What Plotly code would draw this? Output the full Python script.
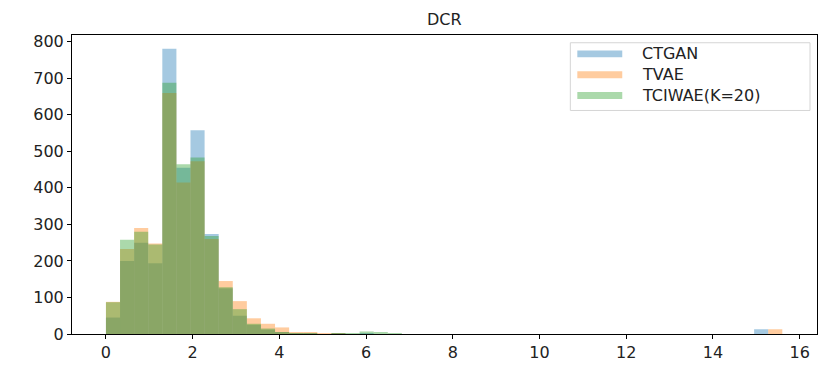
import plotly.graph_objects as go

# Histogram of distance to closest record (DCR), counts per bin
bin_start = 0.0
bin_width = 0.325

ctgan_counts = [45, 200, 250, 194, 781, 455, 558, 274, 125, 50, 25, 12, 3, 1, 1, 0,
                1, 0, 1, 0, 0, 0, 0, 0, 0, 0, 0, 0, 0, 0, 0, 0,
                0, 0, 0, 0, 0, 0, 0, 0, 0, 0, 0, 0, 0, 0, 13, 0]
tvae_counts = [88, 233, 290, 248, 660, 415, 473, 260, 145, 90, 43, 28, 18, 5, 3, 1,
               1, 0, 0, 0, 0, 0, 0, 0, 0, 0, 0, 0, 0, 0, 0, 0,
               0, 0, 0, 0, 0, 0, 0, 0, 0, 0, 0, 0, 0, 0, 0, 13]
tciwae_counts = [87, 258, 280, 245, 688, 465, 483, 268, 128, 68, 28, 15, 4, 2, 1, 0,
                 2, 1, 7, 5, 1, 0, 0, 0, 0, 0, 0, 0, 0, 0, 0, 0,
                 0, 0, 0, 0, 0, 0, 0, 0, 0, 0, 0, 0, 0, 0, 0, 0]

series_names = ["CTGAN", "TVAE", "TCIWAE(K=20)"]
series_counts = [ctgan_counts, tvae_counts, tciwae_counts]
series_colors = ["#1f77b4", "#ff7f0e", "#2ca02c"]

x_ticks = [0, 2, 4, 6, 8, 10, 12, 14, 16]
y_ticks = [0, 100, 200, 300, 400, 500, 600, 700, 800]

W, H = 827, 371
L, R, T, B = 72, 9, 35, 27
font_family = "DejaVu Sans, sans-serif"
text_color = "#222222"

fig = go.Figure()
for name, counts, color in zip(series_names, series_counts, series_colors):
    centers = [bin_start + (i + 0.5) * bin_width for i in range(len(counts))]
    fig.add_trace(go.Bar(
        x=centers, y=counts, width=bin_width, name=name,
        marker=dict(color=color, opacity=0.4, line=dict(width=0)),
        showlegend=False,
    ))

# Legend drawn as a matplotlib-style box with wide colour patches
plot_w = W - L - R
plot_h = H - T - B


def px_x(px):
    return (px - L) / plot_w


def px_y(py):
    return (H - B - py) / plot_h


shapes = [dict(type="rect", xref="paper", yref="paper",
               x0=px_x(571), x1=px_x(811), y0=px_y(113), y1=px_y(43),
               line=dict(color="#d5d5d5", width=1), fillcolor="rgba(255,255,255,0.8)",
               layer="above")]
annotations = []
row_centers = [54.5, 76, 97.5]
for name, color, cy in zip(series_names, series_colors, row_centers):
    shapes.append(dict(type="rect", xref="paper", yref="paper",
                       x0=px_x(578), x1=px_x(623), y0=px_y(cy + 3.6), y1=px_y(cy - 3.6),
                       line=dict(width=0), fillcolor=color, opacity=0.4, layer="above"))
    annotations.append(dict(x=px_x(641), y=px_y(cy), xref="paper", yref="paper",
                            text=name, showarrow=False, xanchor="left", yanchor="middle",
                            font=dict(family=font_family, size=16, color=text_color)))

annotations.append(dict(x=0.5, y=1, xref="paper", yref="paper", text="DCR",
                        showarrow=False, xanchor="center", yanchor="bottom", yshift=4,
                        font=dict(family=font_family, size=16, color=text_color)))

axis_common = dict(showline=True, linecolor="black", linewidth=1, mirror=True,
                   ticks="outside", ticklen=4, tickcolor="black", tickwidth=1,
                   showgrid=False, zeroline=False,
                   tickfont=dict(family=font_family, size=16, color=text_color))

fig.update_layout(
    width=W, height=H,
    margin=dict(l=L, r=R, t=T, b=B),
    paper_bgcolor="white", plot_bgcolor="white",
    barmode="overlay",
    shapes=shapes, annotations=annotations,
    xaxis=dict(range=[-0.783, 16.4], tickvals=x_ticks, **axis_common),
    yaxis=dict(range=[0, 818.5], tickvals=y_ticks, **axis_common),
)

fig.write_html("out.html")
